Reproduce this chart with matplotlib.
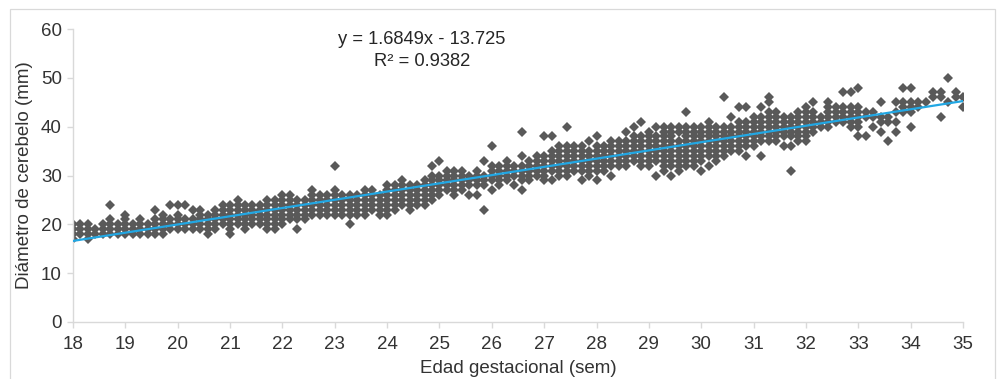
import matplotlib
matplotlib.use('Agg')
import matplotlib.pyplot as plt
from matplotlib.patches import Rectangle

# ---- data: cerebellar diameter (mm) per gestational day column ----
# each week list holds 7 day-columns (day 0..6), each a list of observed diameters
w18 = [[17,18,19,20],[18,19,20],[17,18,19,20],[18,19],[18,19,20],[18,19,20,21,24],[18,19,20]]
w19 = [[18,19,20,21,22],[18,19,20],[18,19,20,21],[18,19,20],[18,19,20,21,23],[18,19,20,21,22],[19,20,21,24]]
w20 = [[19,20,21,22,24],[19,20,21,24],[19,20,21,23],[19,20,21,22,23],[18,19,20,21,22],[19,20,21,22,23],[20,21,22,23,24]]
w21 = [[18,19,20,21,22,23,24],[20,21,22,23,24,25],[19,20,21,22,23,24],[20,21,22,23,24],[20,21,22,23,24],[19,20,21,22,23,24,25],[19,20,21,22,23,24,25]]
w22 = [[20,21,22,23,24,25,26],[21,22,23,24,25,26],[19,21,22,23,24,25],[21,22,23,24,25],[22,23,24,25,26,27],[22,23,24,25,26],[22,23,24,25,26]]
w23 = [[22,23,24,25,26,27,32],[22,23,24,25,26],[20,22,23,24,25,26],[22,23,24,25,26],[22,23,24,25,26,27],[23,24,25,26,27],[22,23,24,25,26]]
w24 = [[22,23,24,25,26,27,28],[23,24,25,26,27,28],[24,25,26,27,28,29],[23,24,25,26,27,28],[24,25,26,27,28],[24,25,26,27,28,29],[25,26,27,28,29,30,32]]
w25 = [[26,27,28,29,30,33],[27,28,29,30,31],[26,27,28,29,30,31],[27,28,29,30,31],[26,28,29,30],[26,28,29,30,31],[23,28,29,30,33]]
w26 = [[27,29,30,31,32,36],[28,29,30,31,32],[29,30,31,32,33],[28,30,31,32],[27,29,30,31,32,34,39],[29,30,31,32,33],[30,31,32,33,34]]
w27 = [[29,30,31,32,33,34,38],[29,31,32,33,34,35,38],[30,31,32,33,34,35,36],[30,31,32,33,34,35,36,40],[31,32,33,34,35,36],[29,31,32,33,34,35,36],[30,31,32,33,34,35,37]]
w28 = [[29,31,32,33,34,35,36,38],[31,32,33,34,35,36],[30,32,33,34,35,36,37],[32,33,34,35,36,37],[32,33,34,35,36,37,39],[33,34,35,36,37,38,40],[32,33,34,35,36,37,38,41]]
w29 = [[32,33,34,35,36,37,38,39],[30,33,34,35,36,37,38,40],[31,32,33,34,35,36,37,38,39,40],[30,32,33,34,35,36,37,38,39,40],[31,32,33,34,35,36,37,39,40],[32,33,34,35,36,37,38,39,40,43],[32,33,34,35,36,37,38,39,40]]
w30 = [[31,33,34,35,36,37,38,39,40],[32,34,35,36,37,38,39,40,41],[33,34,35,36,37,38,39,40],[34,35,36,37,38,39,40,46],[35,36,37,38,39,40,42],[35,36,37,38,39,40,41,44],[34,36,37,38,39,40,41,44]]
w31 = [[36,37,38,39,40,41,42],[34,37,38,39,40,41,42,44],[37,38,39,40,41,42,43,45,46],[37,38,39,40,41,42,43],[36,38,39,40,41,42],[31,36,38,39,40,41,42],[37,38,39,40,41,42,43]]
w32 = [[37,38,39,40,41,42,43,44],[39,40,41,42,43,45],[40,41,42],[40,41,42,43,44,45],[41,42,43,44],[41,42,43,44,47],[40,41,42,43,44,47]]
w33 = [[38,40,41,42,43,44,48],[38,42,43],[40,42,43],[39,41,42,45],[37,41,42],[39,41,43,45],[43,44,45,48]]
w34 = [[40,43,44,45,48],[44,45],[45],[46,47],[42,46,47],[45,50],[46,47]]
w35 = [[44,46]]

weeks = [18, 19, 20, 21, 22, 23, 24, 25, 26, 27, 28, 29, 30, 31, 32, 33, 34, 35]
week_data = [w18, w19, w20, w21, w22, w23, w24, w25, w26, w27, w28, w29, w30, w31, w32, w33, w34, w35]

slope = 1.6849
intercept = -13.725
r2 = 0.9382

x_ticks = list(range(18, 36))
y_ticks = [0, 10, 20, 30, 40, 50, 60]

xs, ys = [], []
for wk, cols in zip(weeks, week_data):
    for d, col in enumerate(cols):
        for v in col:
            xs.append(wk + d / 7.0)
            ys.append(v)

plt.rcParams['font.family'] = ['Liberation Sans', 'DejaVu Sans']

W, H = 997, 379
fig = plt.figure(figsize=(W / 100, H / 100), dpi=100)
ax = fig.add_axes([73 / W, 1 - 322 / H, (963 - 73) / W, (322 - 29) / H])

# chart border (bottom cut off like the reference)
fig.patches.append(Rectangle((10 / W, -0.05), (995 - 10) / W, 1 - 9 / H + 0.05,
                             transform=fig.transFigure, fill=False,
                             edgecolor='#d9d9d9', linewidth=0.9))

ax.plot(xs, ys, linestyle='none', marker='D', markersize=4.8,
        color='#595959', markeredgewidth=0, zorder=2)

xl = [weeks[0], weeks[-1]]
ax.plot(xl, [slope * v + intercept for v in xl], color='#22a7e3', linewidth=1.6, zorder=3)

ax.set_xlim(18, 35)
ax.set_ylim(0, 60)
ax.set_xticks(x_ticks)
ax.set_yticks(y_ticks)
for s in ['top', 'right']:
    ax.spines[s].set_visible(False)
for s in ['left', 'bottom']:
    ax.spines[s].set_color('#d9d9d9')
    ax.spines[s].set_linewidth(1.0)
ax.tick_params(axis='both', colors='#d9d9d9', labelcolor='#333333',
               labelsize=13.5, length=4, width=1.0, direction='out')
ax.tick_params(axis='x', pad=6)
ax.tick_params(axis='y', pad=4)

ax.set_xlabel('Edad gestacional (sem)', fontsize=13.5, color='#333333', labelpad=5)
ax.set_ylabel('Diámetro de cerebelo (mm)', fontsize=13.5, color='#333333', labelpad=6)

fig.text(421.5 / W, 1 - 44.5 / H, f'y = {slope}x - {abs(intercept)}', ha='center',
         va='baseline', fontsize=13.2, color='#262626')
fig.text(422 / W, 1 - 66 / H, f'R² = {r2}', ha='center', va='baseline',
         fontsize=13.2, color='#262626')

fig.savefig('out.png', dpi=100)
